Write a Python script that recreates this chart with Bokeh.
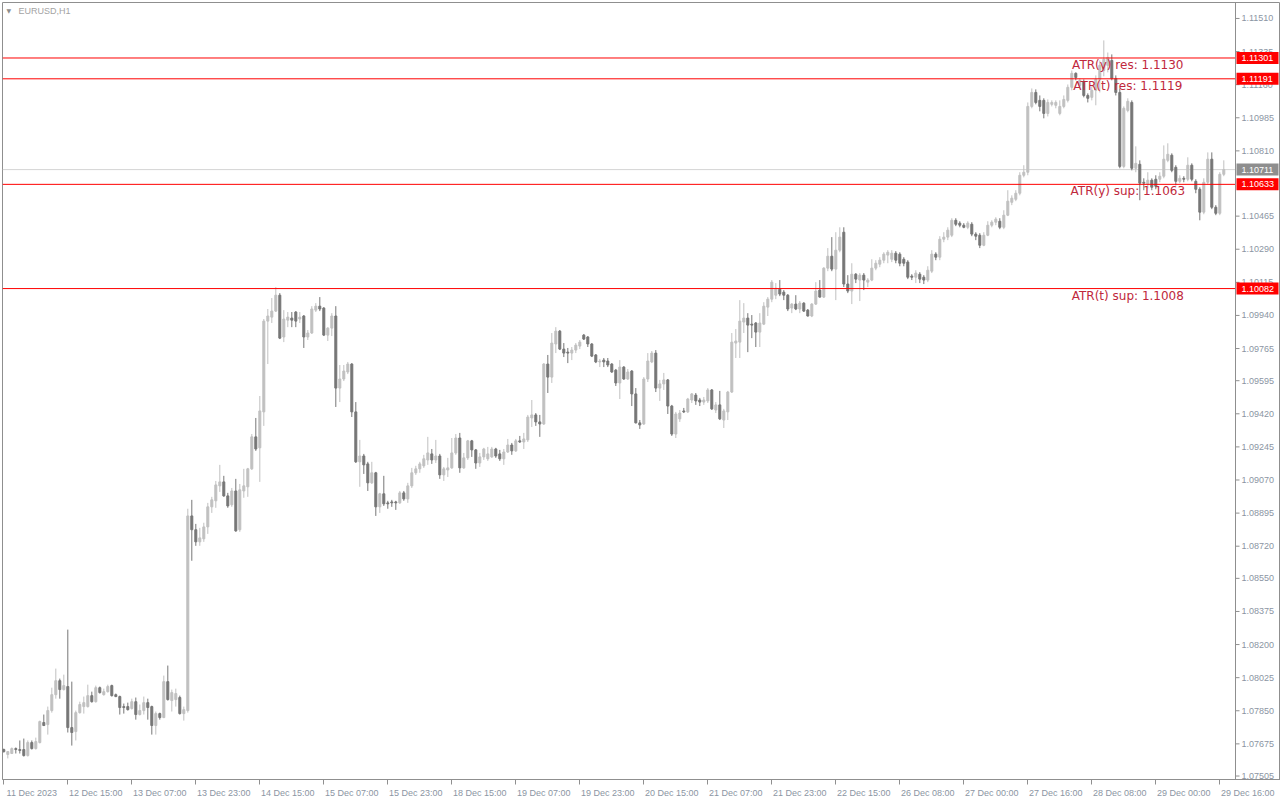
from bokeh.plotting import figure
from bokeh.models import Range1d, FixedTicker, Span, Label, ColumnDataSource
from bokeh.core.properties import value
from bokeh.embed import file_html
from bokeh.resources import INLINE

symbol = "EURUSD,H1"

opens = [1.07645, 1.07619, 1.07624, 1.07650, 1.07645, 1.07645, 1.07613, 1.07682, 1.07650, 1.07682,
         1.07788, 1.07777, 1.07851, 1.07935, 1.08009, 1.07962, 1.07978, 1.07761, 1.07740, 1.07840,
         1.07872, 1.07872, 1.07930, 1.07898, 1.07972, 1.07935, 1.07951, 1.07983, 1.07935, 1.07925,
         1.07872, 1.07872, 1.07862, 1.07898, 1.07830, 1.07851, 1.07893, 1.07872, 1.07772, 1.07835,
         1.07814, 1.08004, 1.07904, 1.07909, 1.07920, 1.07835, 1.07851, 1.08880, 1.08807, 1.08743,
         1.08759, 1.08822, 1.08928, 1.08960, 1.09039, 1.09060, 1.08986, 1.08939, 1.09012, 1.08807,
         1.09012, 1.09034, 1.09129, 1.09298, 1.09240, 1.09430, 1.09910, 1.09931, 1.09963, 1.10047,
         1.09826, 1.09915, 1.09926, 1.09958, 1.09921, 1.09937, 1.09826, 1.09847, 1.09968, 1.09989,
         1.09979, 1.09836, 1.09873, 1.09937, 1.09556, 1.09604, 1.09641, 1.09683, 1.09430, 1.09166,
         1.09197, 1.09155, 1.09055, 1.09108, 1.08928, 1.08997, 1.08949, 1.08954, 1.08954, 1.08949,
         1.09002, 1.08970, 1.09039, 1.09108, 1.09129, 1.09145, 1.09176, 1.09208, 1.09176, 1.09197,
         1.09097, 1.09123, 1.09134, 1.09213, 1.09292, 1.09134, 1.09187, 1.09277, 1.09229, 1.09160,
         1.09192, 1.09182, 1.09192, 1.09234, 1.09208, 1.09182, 1.09218, 1.09255, 1.09224, 1.09277,
         1.09271, 1.09282, 1.09398, 1.09414, 1.09377, 1.09366, 1.09683, 1.09614, 1.09789, 1.09857,
         1.09762, 1.09746, 1.09741, 1.09757, 1.09778, 1.09836, 1.09826, 1.09789, 1.09731, 1.09694,
         1.09704, 1.09699, 1.09683, 1.09651, 1.09583, 1.09667, 1.09604, 1.09646, 1.09525, 1.09372,
         1.09366, 1.09604, 1.09694, 1.09741, 1.09556, 1.09578, 1.09599, 1.09461, 1.09313, 1.09393,
         1.09435, 1.09430, 1.09493, 1.09519, 1.09493, 1.09482, 1.09488, 1.09546, 1.09440, 1.09467,
         1.09387, 1.09430, 1.09535, 1.09794, 1.09799, 1.09905, 1.09926, 1.09894, 1.09900, 1.09852,
         1.09894, 1.09984, 1.10026, 1.10047, 1.10079, 1.10063, 1.10047, 1.09979, 1.10000, 1.09974,
         1.10005, 1.09968, 1.09937, 1.10000, 1.10074, 1.10037, 1.10190, 1.10253, 1.10185, 1.10285,
         1.10380, 1.10106, 1.10069, 1.10158, 1.10127, 1.10153, 1.10116, 1.10127, 1.10190, 1.10211,
         1.10232, 1.10259, 1.10237, 1.10269, 1.10264, 1.10237, 1.10222, 1.10148, 1.10142, 1.10158,
         1.10142, 1.10127, 1.10174, 1.10264, 1.10248, 1.10343, 1.10354, 1.10364, 1.10443, 1.10428,
         1.10417, 1.10406, 1.10422, 1.10370, 1.10364, 1.10311, 1.10364, 1.10417, 1.10433, 1.10438,
         1.10406, 1.10470, 1.10538, 1.10554, 1.10586, 1.10681, 1.10697, 1.11045, 1.11119, 1.11077,
         1.11077, 1.11008, 1.11056, 1.11051, 1.11008, 1.11045, 1.11077, 1.11146, 1.11220, 1.11156,
         1.11177, 1.11103, 1.11093, 1.11130, 1.11188, 1.11235, 1.11262, 1.11288, 1.11193, 1.11119,
         1.10728, 1.11024, 1.11066, 1.10718, 1.10739, 1.10644, 1.10634, 1.10655, 1.10660, 1.10660,
         1.10676, 1.10760, 1.10787, 1.10723, 1.10649, 1.10665, 1.10660, 1.10734, 1.10649, 1.10607,
         1.10486, 1.10644, 1.10766, 1.10512, 1.10480, 1.10686]

highs = [1.07650, 1.07637, 1.07656, 1.07656, 1.07693, 1.07703, 1.07693, 1.07693, 1.07708, 1.07798,
         1.07830, 1.07872, 1.07972, 1.08073, 1.08020, 1.08041, 1.08279, 1.08004, 1.07851, 1.07898,
         1.07925, 1.07988, 1.07951, 1.07983, 1.07978, 1.07967, 1.07988, 1.07988, 1.07941, 1.07930,
         1.07888, 1.07893, 1.07914, 1.07920, 1.07883, 1.07925, 1.07914, 1.07877, 1.07846, 1.07840,
         1.08036, 1.08089, 1.07962, 1.07967, 1.07930, 1.07872, 1.08918, 1.08965, 1.08838, 1.08817,
         1.08844, 1.08949, 1.08981, 1.09065, 1.09150, 1.09092, 1.09002, 1.09028, 1.09076, 1.09049,
         1.09129, 1.09134, 1.09313, 1.09398, 1.09514, 1.09921, 1.09974, 1.10032, 1.10090, 1.10058,
         1.09968, 1.09958, 1.09958, 1.09963, 1.09958, 1.09942, 1.09863, 1.09989, 1.10005, 1.10037,
         1.09984, 1.09878, 1.09952, 1.09989, 1.09678, 1.09678, 1.09694, 1.09688, 1.09482, 1.09282,
         1.09208, 1.09166, 1.09166, 1.09113, 1.09002, 1.09092, 1.08960, 1.08965, 1.08960, 1.09012,
         1.09012, 1.09055, 1.09134, 1.09145, 1.09166, 1.09203, 1.09298, 1.09234, 1.09282, 1.09208,
         1.09139, 1.09187, 1.09292, 1.09313, 1.09319, 1.09213, 1.09282, 1.09282, 1.09234, 1.09213,
         1.09240, 1.09245, 1.09245, 1.09240, 1.09229, 1.09234, 1.09287, 1.09266, 1.09287, 1.09303,
         1.09319, 1.09414, 1.09493, 1.09424, 1.09414, 1.09688, 1.09731, 1.09847, 1.09878, 1.09863,
         1.09794, 1.09768, 1.09773, 1.09794, 1.09810, 1.09842, 1.09831, 1.09794, 1.09736, 1.09710,
         1.09715, 1.09715, 1.09688, 1.09657, 1.09704, 1.09672, 1.09657, 1.09651, 1.09556, 1.09387,
         1.09614, 1.09741, 1.09752, 1.09757, 1.09599, 1.09636, 1.09604, 1.09467, 1.09430, 1.09440,
         1.09451, 1.09504, 1.09530, 1.09530, 1.09504, 1.09509, 1.09556, 1.09551, 1.09482, 1.09541,
         1.09446, 1.09541, 1.09847, 1.09868, 1.10021, 1.10005, 1.09952, 1.09942, 1.09905, 1.09952,
         1.10010, 1.10037, 1.10127, 1.10111, 1.10127, 1.10074, 1.10053, 1.10005, 1.10047, 1.10016,
         1.10010, 1.09974, 1.10005, 1.10116, 1.10127, 1.10195, 1.10296, 1.10354, 1.10380, 1.10406,
         1.10406, 1.10153, 1.10216, 1.10164, 1.10164, 1.10164, 1.10137, 1.10237, 1.10232, 1.10248,
         1.10274, 1.10285, 1.10285, 1.10280, 1.10274, 1.10248, 1.10232, 1.10158, 1.10179, 1.10169,
         1.10153, 1.10200, 1.10285, 1.10274, 1.10359, 1.10380, 1.10406, 1.10454, 1.10454, 1.10438,
         1.10428, 1.10438, 1.10433, 1.10380, 1.10375, 1.10380, 1.10438, 1.10443, 1.10459, 1.10454,
         1.10496, 1.10602, 1.10575, 1.10602, 1.10697, 1.10734, 1.11066, 1.11140, 1.11135, 1.11103,
         1.11088, 1.11082, 1.11077, 1.11077, 1.11077, 1.11103, 1.11161, 1.11235, 1.11225, 1.11193,
         1.11188, 1.11114, 1.11151, 1.11209, 1.11288, 1.11394, 1.11330, 1.11320, 1.11209, 1.11140,
         1.11045, 1.11088, 1.11077, 1.10834, 1.10760, 1.10665, 1.10697, 1.10665, 1.10681, 1.10697,
         1.10839, 1.10850, 1.10797, 1.10734, 1.10681, 1.10676, 1.10776, 1.10744, 1.10660, 1.10618,
         1.10665, 1.10802, 1.10802, 1.10523, 1.10697, 1.10760]

lows = [1.07629, 1.07598, 1.07621, 1.07624, 1.07624, 1.07608, 1.07608, 1.07645, 1.07645, 1.07677,
        1.07769, 1.07724, 1.07840, 1.07914, 1.07914, 1.07957, 1.07735, 1.07666, 1.07693, 1.07835,
        1.07835, 1.07867, 1.07893, 1.07893, 1.07941, 1.07930, 1.07946, 1.07925, 1.07922, 1.07830,
        1.07835, 1.07851, 1.07856, 1.07803, 1.07825, 1.07830, 1.07803, 1.07724, 1.07724, 1.07803,
        1.07811, 1.07904, 1.07846, 1.07872, 1.07830, 1.07798, 1.07840, 1.08643, 1.08722, 1.08722,
        1.08743, 1.08785, 1.08896, 1.08923, 1.09007, 1.08981, 1.08923, 1.08928, 1.08796, 1.08796,
        1.08976, 1.08981, 1.09123, 1.09224, 1.09060, 1.09356, 1.09683, 1.09900, 1.09958, 1.09815,
        1.09799, 1.09878, 1.09878, 1.09878, 1.09900, 1.09768, 1.09810, 1.09842, 1.09958, 1.09963,
        1.09831, 1.09805, 1.09831, 1.09456, 1.09482, 1.09593, 1.09630, 1.09403, 1.09160, 1.09034,
        1.09102, 1.09012, 1.09049, 1.08880, 1.08896, 1.08933, 1.08918, 1.08928, 1.08912, 1.08944,
        1.08960, 1.08949, 1.09028, 1.09097, 1.09108, 1.09134, 1.09150, 1.09155, 1.09160, 1.09076,
        1.09065, 1.09086, 1.09129, 1.09203, 1.09108, 1.09129, 1.09176, 1.09192, 1.09129, 1.09139,
        1.09176, 1.09171, 1.09187, 1.09187, 1.09171, 1.09150, 1.09213, 1.09203, 1.09218, 1.09266,
        1.09234, 1.09271, 1.09350, 1.09356, 1.09298, 1.09361, 1.09530, 1.09583, 1.09741, 1.09757,
        1.09720, 1.09688, 1.09704, 1.09741, 1.09762, 1.09810, 1.09773, 1.09720, 1.09688, 1.09667,
        1.09667, 1.09667, 1.09636, 1.09567, 1.09498, 1.09599, 1.09599, 1.09461, 1.09369, 1.09340,
        1.09361, 1.09588, 1.09688, 1.09535, 1.09488, 1.09546, 1.09419, 1.09303, 1.09292, 1.09377,
        1.09424, 1.09424, 1.09477, 1.09467, 1.09461, 1.09467, 1.09477, 1.09440, 1.09424, 1.09387,
        1.09345, 1.09387, 1.09530, 1.09715, 1.09715, 1.09847, 1.09746, 1.09820, 1.09773, 1.09773,
        1.09889, 1.09937, 1.10010, 1.10026, 1.10042, 1.10021, 1.09963, 1.09952, 1.09968, 1.09952,
        1.09958, 1.09934, 1.09931, 1.09995, 1.10034, 1.10032, 1.10174, 1.10174, 1.10021, 1.10274,
        1.10090, 1.10058, 1.10000, 1.10111, 1.10016, 1.10074, 1.10090, 1.10121, 1.10179, 1.10195,
        1.10216, 1.10216, 1.10222, 1.10216, 1.10200, 1.10200, 1.10132, 1.10127, 1.10111, 1.10111,
        1.10106, 1.10116, 1.10164, 1.10232, 1.10232, 1.10327, 1.10338, 1.10354, 1.10412, 1.10406,
        1.10401, 1.10396, 1.10359, 1.10338, 1.10296, 1.10306, 1.10359, 1.10406, 1.10417, 1.10396,
        1.10396, 1.10465, 1.10523, 1.10544, 1.10575, 1.10670, 1.10681, 1.11035, 1.11056, 1.11019,
        1.10982, 1.10992, 1.11045, 1.11035, 1.10998, 1.11035, 1.11066, 1.11130, 1.11183, 1.11146,
        1.11093, 1.11066, 1.11077, 1.11051, 1.11119, 1.11204, 1.11225, 1.11183, 1.11103, 1.10718,
        1.10718, 1.11014, 1.10707, 1.10697, 1.10549, 1.10602, 1.10612, 1.10602, 1.10607, 1.10644,
        1.10665, 1.10750, 1.10697, 1.10628, 1.10639, 1.10644, 1.10649, 1.10649, 1.10586, 1.10443,
        1.10475, 1.10634, 1.10502, 1.10470, 1.10470, 1.10676]

closes = [1.07634, 1.07634, 1.07650, 1.07645, 1.07640, 1.07613, 1.07682, 1.07650, 1.07687, 1.07793,
          1.07772, 1.07851, 1.07935, 1.08009, 1.07962, 1.07983, 1.07761, 1.07735, 1.07840, 1.07883,
          1.07893, 1.07930, 1.07898, 1.07972, 1.07946, 1.07951, 1.07978, 1.07930, 1.07925, 1.07867,
          1.07867, 1.07856, 1.07898, 1.07830, 1.07851, 1.07893, 1.07867, 1.07772, 1.07835, 1.07814,
          1.08004, 1.07909, 1.07946, 1.07941, 1.07835, 1.07856, 1.08880, 1.08807, 1.08743, 1.08764,
          1.08822, 1.08928, 1.08965, 1.09044, 1.09060, 1.08986, 1.08933, 1.09012, 1.08801, 1.09018,
          1.09039, 1.09129, 1.09298, 1.09234, 1.09435, 1.09910, 1.09937, 1.09963, 1.10047, 1.09820,
          1.09921, 1.09931, 1.09915, 1.09910, 1.09931, 1.09826, 1.09847, 1.09974, 1.09989, 1.09974,
          1.09836, 1.09873, 1.09937, 1.09556, 1.09604, 1.09646, 1.09683, 1.09430, 1.09166, 1.09197,
          1.09150, 1.09055, 1.09108, 1.08928, 1.08997, 1.08944, 1.08944, 1.08949, 1.08949, 1.09002,
          1.08970, 1.09039, 1.09108, 1.09129, 1.09155, 1.09182, 1.09213, 1.09176, 1.09197, 1.09097,
          1.09129, 1.09134, 1.09213, 1.09292, 1.09134, 1.09187, 1.09277, 1.09229, 1.09160, 1.09192,
          1.09234, 1.09208, 1.09234, 1.09197, 1.09182, 1.09218, 1.09255, 1.09224, 1.09277, 1.09271,
          1.09287, 1.09403, 1.09414, 1.09377, 1.09366, 1.09683, 1.09614, 1.09794, 1.09857, 1.09762,
          1.09741, 1.09741, 1.09757, 1.09783, 1.09799, 1.09815, 1.09789, 1.09725, 1.09694, 1.09699,
          1.09694, 1.09678, 1.09641, 1.09583, 1.09667, 1.09604, 1.09641, 1.09525, 1.09372, 1.09361,
          1.09604, 1.09699, 1.09741, 1.09556, 1.09578, 1.09599, 1.09461, 1.09313, 1.09419, 1.09424,
          1.09430, 1.09498, 1.09525, 1.09488, 1.09482, 1.09493, 1.09546, 1.09446, 1.09467, 1.09393,
          1.09435, 1.09535, 1.09799, 1.09805, 1.09910, 1.09926, 1.09889, 1.09889, 1.09852, 1.09900,
          1.09989, 1.10026, 1.10116, 1.10084, 1.10053, 1.10047, 1.09974, 1.10000, 1.09974, 1.10005,
          1.09963, 1.09937, 1.10000, 1.10069, 1.10037, 1.10190, 1.10253, 1.10185, 1.10285, 1.10354,
          1.10106, 1.10069, 1.10158, 1.10132, 1.10153, 1.10127, 1.10127, 1.10190, 1.10216, 1.10232,
          1.10264, 1.10274, 1.10269, 1.10232, 1.10216, 1.10216, 1.10142, 1.10142, 1.10164, 1.10132,
          1.10127, 1.10179, 1.10264, 1.10248, 1.10343, 1.10354, 1.10391, 1.10443, 1.10422, 1.10417,
          1.10406, 1.10428, 1.10370, 1.10359, 1.10311, 1.10364, 1.10417, 1.10433, 1.10449, 1.10406,
          1.10470, 1.10544, 1.10560, 1.10586, 1.10681, 1.10697, 1.11045, 1.11119, 1.11066, 1.11045,
          1.11008, 1.11066, 1.11066, 1.11066, 1.11045, 1.11082, 1.11146, 1.11220, 1.11198, 1.11183,
          1.11103, 1.11088, 1.11130, 1.11188, 1.11262, 1.11294, 1.11304, 1.11193, 1.11119, 1.10728,
          1.11035, 1.11072, 1.10718, 1.10744, 1.10639, 1.10639, 1.10655, 1.10618, 1.10623, 1.10676,
          1.10766, 1.10792, 1.10707, 1.10649, 1.10665, 1.10660, 1.10734, 1.10660, 1.10607, 1.10486,
          1.10644, 1.10766, 1.10512, 1.10480, 1.10686, 1.10711]

date_ticks = [0, 16, 32, 48, 64, 80, 96, 112, 128, 144, 160, 176, 192, 208, 224, 240, 256, 272, 288, 304]
date_labels = ["11 Dec 2023", "12 Dec 15:00", "13 Dec 07:00", "13 Dec 23:00", "14 Dec 15:00",
               "15 Dec 07:00", "15 Dec 23:00", "18 Dec 15:00", "19 Dec 07:00", "19 Dec 23:00",
               "20 Dec 15:00", "21 Dec 07:00", "21 Dec 23:00", "22 Dec 15:00", "26 Dec 08:00",
               "27 Dec 00:00", "27 Dec 16:00", "28 Dec 08:00", "29 Dec 00:00", "29 Dec 16:00"]

price_ticks = [1.07505, 1.07675, 1.07850, 1.08025, 1.08200, 1.08375, 1.08550, 1.08720, 1.08895,
               1.09070, 1.09245, 1.09420, 1.09595, 1.09765, 1.09940, 1.10115, 1.10290, 1.10465,
               1.10810, 1.10985, 1.11160, 1.11335, 1.11510]

atr_names = ["ATR(y) res", "ATR(t) res", "ATR(y) sup", "ATR(t) sup"]
atr_levels = [1.11301, 1.11191, 1.10633, 1.10082]

# ---- layout constants (in bar units) ----
X_START, X_END = -0.325, 319.175     # visible bar range, incl. price-scale strip
SCALE_X = 307.925                    # right edge of the chart area / price scale line
ATR_TEXT_BAR = 281                   # bar under which the ATR captions are centred
LABEL_SHIFT = 7                      # date label centre, bars right of its tick

# ---- styles ----
BULL = "#c0c0c0"
BEAR = "#777777"
FRAME = "#8f8f8f"
AXIS_TXT = "#8b95a3"
RED = "#ff0000"
ATR_TXT = "#c0283c"
FONT = "Liberation Sans"

n = len(closes)
xs = list(range(n))
colors = [BULL if c >= o else BEAR for o, c in zip(opens, closes)]
tops = [max(o, c) for o, c in zip(opens, closes)]
bottoms = [min(o, c) for o, c in zip(opens, closes)]
src = ColumnDataSource(dict(x=xs, high=highs, low=lows, top=tops, bottom=bottoms, color=colors))

p = figure(width=1280, height=800, title=None,
           x_range=Range1d(X_START, X_END), y_range=Range1d(1.074866, 1.115944),
           output_backend="svg", toolbar_location=None, y_axis_location=None,
           min_border_left=2, min_border_top=2, min_border_right=0, min_border_bottom=20)
p.background_fill_color = "white"
p.border_fill_color = "white"
p.outline_line_color = FRAME
p.grid.visible = False

# last bid line (under candles)
p.segment(x0=[X_START], x1=[SCALE_X], y0=[closes[-1]], y1=[closes[-1]],
          line_color="#d4d4d4", line_width=1)

# candles
p.segment(x0="x", y0="high", x1="x", y1="low", line_color="color", line_width=1, source=src)
p.vbar(x="x", width=0.5, top="top", bottom="bottom", fill_color="color",
       line_color="color", line_width=1, source=src)

# ATR levels
k = len(atr_levels)
p.segment(x0=[X_START] * k, x1=[SCALE_X] * k, y0=atr_levels, y1=atr_levels,
          line_color=RED, line_width=1)
p.text(x=[ATR_TEXT_BAR] * k, y=atr_levels,
       text=[f"{nm}: {lv:.4f}" for nm, lv in zip(atr_names, atr_levels)],
       text_align="center", text_baseline="top", text_font=value("DejaVu Sans"),
       text_font_size="12px", text_color=ATR_TXT)

# price scale on the right
p.add_layout(Span(location=SCALE_X, dimension="height", line_color=FRAME, line_width=1))
m = len(price_ticks)
p.segment(x0=[SCALE_X] * m, x1=[SCALE_X + 1] * m, y0=price_ticks, y1=price_ticks,
          line_color=FRAME, line_width=1)
p.text(x=[SCALE_X + 1.5] * m, y=price_ticks, text=[f"{t:.5f}" for t in price_ticks],
       text_align="left", text_baseline="middle", text_font=value(FONT),
       text_font_size="9px", text_color=AXIS_TXT)

# price tags
tag_vals = atr_levels + [closes[-1]]
tag_cols = [RED] * k + ["#8e8e8e"]
p.rect(x=[SCALE_X + 5.5] * len(tag_vals), y=tag_vals, width=42, height=12,
       width_units="screen", height_units="screen", fill_color=tag_cols, line_color=None)
p.text(x=[SCALE_X + 1.5] * len(tag_vals), y=tag_vals, text=[f"{v:.5f}" for v in tag_vals],
       text_align="left", text_baseline="middle", text_font=value(FONT),
       text_font_size="9px", text_color="white")

# time axis: tick marks at the bars, labels to the right of each tick
ax = p.xaxis[0]
centres = [t + LABEL_SHIFT for t in date_ticks]
ax.ticker = FixedTicker(ticks=centres, minor_ticks=date_ticks)
ax.major_label_overrides = {c: lab for c, lab in zip(centres, date_labels)}
ax.axis_line_color = FRAME
ax.major_tick_line_color = None
ax.major_tick_out = 0
ax.major_tick_in = 0
ax.minor_tick_line_color = FRAME
ax.minor_tick_out = 5
ax.minor_tick_in = 0
ax.major_label_standoff = 3
ax.major_label_text_font = FONT
ax.major_label_text_font_size = "9px"
ax.major_label_text_color = AXIS_TXT

# symbol caption
p.add_layout(Label(x=X_START, y=p.y_range.end, x_offset=4, y_offset=-8, text="\u25bc",
                   text_baseline="middle", text_font="DejaVu Sans", text_font_size="6px",
                   text_color="#8c8c8c"))
p.add_layout(Label(x=X_START, y=p.y_range.end, x_offset=16, y_offset=-8, text=symbol,
                   text_baseline="middle", text_font=FONT, text_font_size="9px",
                   text_color="#a3a3a3"))

open("out.html", "w").write(file_html(p, INLINE))
